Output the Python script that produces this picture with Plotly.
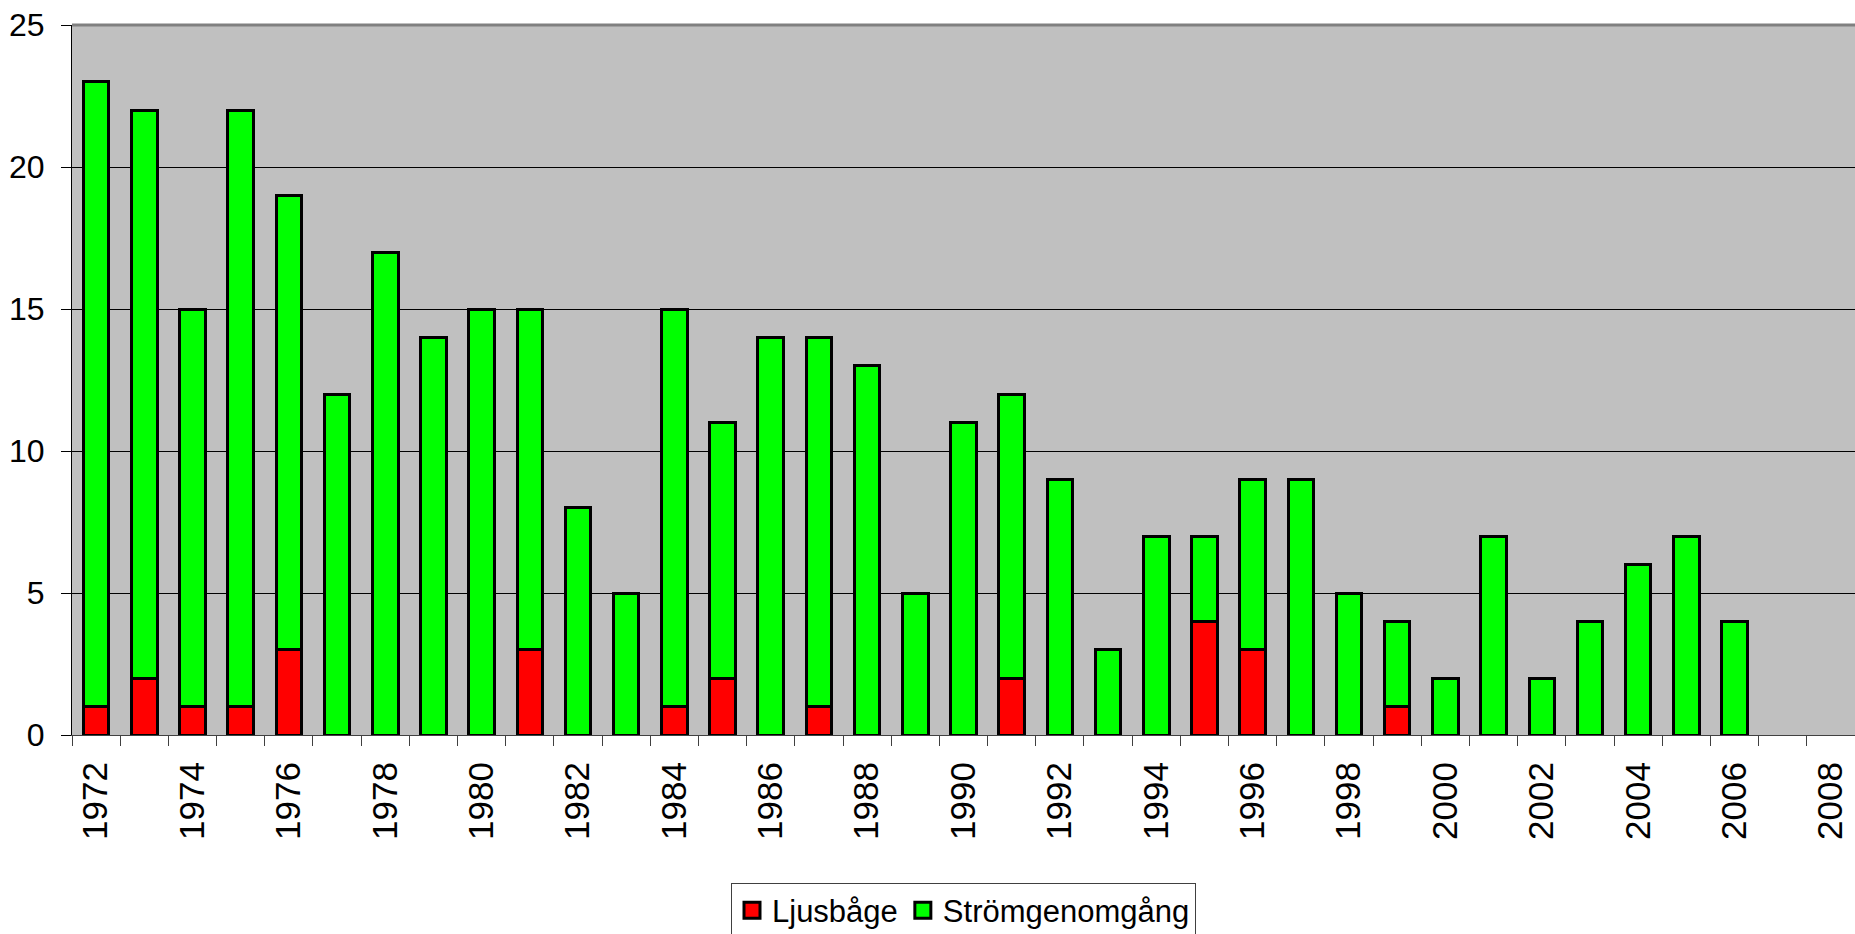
import plotly.graph_objects as go

years = list(range(1972, 2009))
ljusbage = [1, 2, 1, 1, 3, 0, 0, 0, 0, 3, 0, 0, 1, 2, 0, 1, 0, 0, 0, 2, 0, 0, 0, 4, 3, 0, 0, 1, 0, 0, 0, 0, 0, 0, 0, 0, 0]
stromgenomgang = [22, 20, 14, 21, 16, 12, 17, 14, 15, 12, 8, 5, 14, 9, 14, 13, 13, 5, 11, 10, 9, 3, 7, 3, 6, 9, 5, 3, 2, 7, 2, 4, 6, 7, 4, 0, 0]
series_names = ["Ljusbåge", "Strömgenomgång"]
series_colors = ["#FF0000", "#00FF00"]
label_years = list(range(1972, 2009, 2))
y_ticks = [0, 5, 10, 15, 20, 25]

FONT = "Liberation Sans, Arial, sans-serif"


def nz(vals):
    # zero-height bars are not drawn in the original (no border stub)
    return [v if v else None for v in vals]


fig = go.Figure()
for name, color, vals in zip(series_names, series_colors, [ljusbage, stromgenomgang]):
    fig.add_trace(go.Bar(x=years, y=nz(vals), name=name, showlegend=False, legendgroup=name,
                         marker=dict(color=color, line=dict(color="black", width=3))))
# legend entries with larger square swatches
for name, color in zip(series_names, series_colors):
    fig.add_trace(go.Scatter(x=[None], y=[None], mode="markers", name=name, legendgroup=name,
                             marker=dict(symbol="square", size=16, color=color,
                                         line=dict(color="black", width=3))))

fig.update_layout(
    barmode="stack",
    bargap=0.47,
    width=1855, height=934,
    margin=dict(l=72, r=0, t=25, b=199, autoexpand=False),
    plot_bgcolor="#C0C0C0",
    paper_bgcolor="white",
    font=dict(family=FONT, color="black"),
    showlegend=True,
    legend=dict(orientation="h", x=0.5, xanchor="center", y=-0.208, yanchor="top",
                font=dict(size=31, family=FONT), bordercolor="#404040", borderwidth=1,
                traceorder="normal", itemwidth=30, itemsizing="trace"),
    xaxis=dict(
        range=[1971.5, 2008.5],
        tickmode="array", tickvals=label_years, ticktext=[str(y) for y in label_years],
        tickangle=-90, ticks="", tickfont=dict(size=35, family=FONT),
        ticklabelstandoff=12,
        showgrid=False, showline=True, linecolor="#404040", linewidth=1,
        minor=dict(tickmode="array", tickvals=[y - 0.5 for y in years] + [years[-1] + 0.5],
                   ticks="outside", ticklen=10, tickcolor="#404040", tickwidth=1, showgrid=False),
        fixedrange=True,
    ),
    yaxis=dict(
        range=[0, 25], tickmode="array", tickvals=y_ticks,
        ticks="outside", ticklen=10, tickcolor="black", tickwidth=1,
        tickfont=dict(size=32, family=FONT), ticklabelstandoff=10,
        showgrid=True, gridcolor="black", gridwidth=1,
        showline=True, linecolor="black", linewidth=1,
        zeroline=False, fixedrange=True,
    ),
    shapes=[dict(type="line", xref="paper", yref="paper", x0=0, x1=1, y0=1, y1=1,
                 line=dict(color="#808080", width=3), layer="above")],
)

fig.write_html("out.html", config={"displayModeBar": False},
               post_script="document.body.style.margin='0px';document.body.style.overflow='hidden';")
